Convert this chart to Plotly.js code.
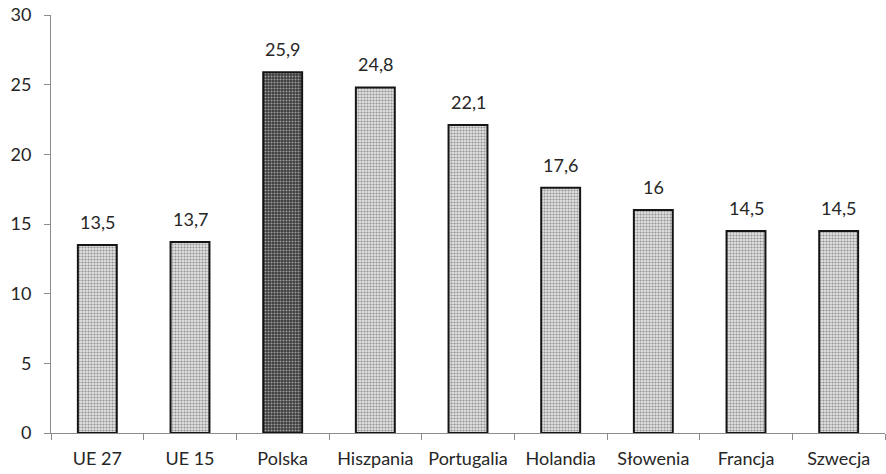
<!DOCTYPE html>
<html>
<head>
<meta charset="utf-8">
<script src="https://cdn.plot.ly/plotly-3.0.1.min.js"></script>
<style>
  html, body { margin: 0; padding: 0; background: #fff; }
  #chart { width: 886px; height: 474px; }
</style>
</head>
<body>
<div id="chart"></div>
<script>
// Countries and their values
const categories = ["UE 27", "UE 15", "Polska", "Hiszpania", "Portugalia", "Holandia", "Słowenia", "Francja", "Szwecja"];
const values = [13.5, 13.7, 25.9, 24.8, 22.1, 17.6, 16, 14.5, 14.5];
const highlighted = "Polska";
const yTicks = [0, 5, 10, 15, 20, 25, 30];

const FONT = "Lato, 'Open Sans', sans-serif";
const bgColors = categories.map(c => c === highlighted ? "#3a3a3a" : "#e0e0e0");
const fgColors = categories.map(c => c === highlighted ? "#101010" : "#a2a2a2");

const trace = {
  type: "bar",
  x: categories,
  y: values,
  marker: {
    color: bgColors,
    line: { color: "#151515", width: 2 },
    pattern: { shape: ".", fgcolor: fgColors, size: 3, solidity: 0.4, fillmode: "overlay" }
  },
  hoverinfo: "none"
};

// value labels above each bar, decimal comma
const labels = categories.map((c, i) => ({
  x: c,
  y: values[i],
  xref: "x",
  yref: "y",
  text: String(values[i]).replace(".", ","),
  showarrow: false,
  yanchor: "bottom",
  yshift: 10,
  font: { family: FONT, size: 18, color: "#262626" }
}));

const layout = {
  width: 886,
  height: 474,
  margin: { l: 51, r: 1, t: 15, b: 41 },
  paper_bgcolor: "#fff",
  plot_bgcolor: "#fff",
  showlegend: false,
  bargap: 0.58,
  font: { family: FONT, size: 18, color: "#262626" },
  annotations: labels,
  xaxis: {
    type: "category",
    showline: true,
    linecolor: "#8c8c8c",
    linewidth: 1,
    ticks: "outside",
    tickson: "boundaries",
    ticklen: 6,
    tickcolor: "#8c8c8c",
    ticklabelstandoff: 9,
    showgrid: false,
    zeroline: false,
    tickfont: { family: FONT, size: 18, color: "#262626" }
  },
  yaxis: {
    range: [0, 30],
    tickvals: yTicks,
    showline: true,
    linecolor: "#8c8c8c",
    linewidth: 1,
    ticks: "outside",
    ticklen: 6,
    tickcolor: "#8c8c8c",
    ticklabelstandoff: 9,
    showgrid: false,
    zeroline: false,
    tickfont: { family: FONT, size: 18, color: "#262626" }
  }
};

Plotly.newPlot("chart", [trace], layout, { staticPlot: true, displayModeBar: false });
</script>
</body>
</html>
